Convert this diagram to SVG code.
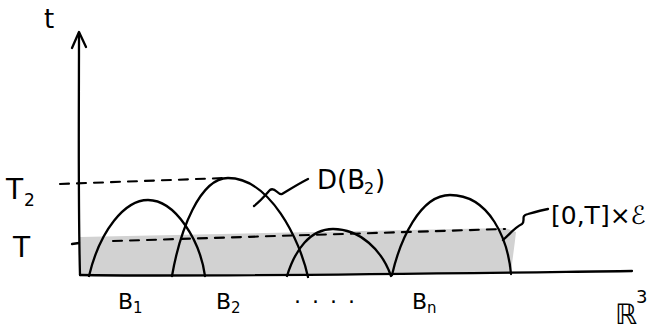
<svg xmlns="http://www.w3.org/2000/svg" width="662" height="330" viewBox="0 0 662 330">
<style>
.ln{fill:none;stroke:#000;stroke-width:2.3;stroke-linecap:round;stroke-linejoin:round}
.dash{fill:none;stroke:#000;stroke-width:2.1;stroke-dasharray:9 8;stroke-linecap:round}
.lbl{font-family:"DejaVu Sans","Liberation Sans",sans-serif;fill:#000}
</style>
<rect width="662" height="330" fill="#fff"/>
<g id="region">
<path d="M80 237 L505 228 L516 232 C514 250 512 262 511 274 L80 275 Z" fill="#d2d2d2"/>
</g>
<g id="axes">
<path class="ln" d="M80 275 C78 200 79 110 79 33"/>
<path class="ln" d="M72 48 L79 32 L86 47"/>
<path class="ln" d="M80 275 C200 277 400 274 632 271"/>
<path class="ln" d="M72 244 L79 243"/>
</g>
<g id="dashes">
<path class="dash" d="M60 184 L225 178"/>
<path class="dash" d="M113 241 L505 229"/>
</g>
<g id="arches">
<path class="ln" d="M89 276 C100 230 125 200 148 200 C175 200 200 240 205 276"/>
<path class="ln" d="M172 276 C180 230 200 178 228 178 C270 178 300 240 308 277"/>
<path class="ln" d="M287 276 C295 250 310 229 333 229 C360 229 382 250 391 276"/>
<path class="ln" d="M392 275 C400 240 420 195 450 195 C490 195 508 240 511 274"/>
</g>
<g id="leaders">
<path class="ln" d="M254 206 C262 200 268 192 270 190 C275 186 278 196 282 194 C292 188 300 183 308 179"/>
<path class="ln" d="M503 240 C510 234 514 228 522 224 C526 220 520 216 528 214 C535 212 542 210 548 209"/>
</g>
<g id="labels">
<text class="lbl" x="44" y="28" font-size="26">t</text>
<text class="lbl" x="6" y="199" font-size="28">T</text>
<text class="lbl" x="24" y="206" font-size="17">2</text>
<text class="lbl" x="13" y="257" font-size="28">T</text>
<text class="lbl" x="317" y="189" font-size="26">D(B</text>
<text class="lbl" x="364" y="194" font-size="16">2</text>
<text class="lbl" x="375" y="189" font-size="26">)</text>
<text class="lbl" x="551" y="224" font-size="25">[0,T]×ℰ</text>
<text class="lbl" x="118" y="309" font-size="22">B</text>
<text class="lbl" x="133" y="313" font-size="15">1</text>
<text class="lbl" x="216" y="309" font-size="22">B</text>
<text class="lbl" x="231" y="313" font-size="15">2</text>
<text class="lbl" x="294" y="303" font-size="22" letter-spacing="2">. . . .</text>
<text class="lbl" x="412" y="309" font-size="22">B</text>
<text class="lbl" x="427" y="313" font-size="15">n</text>
<text class="lbl" x="615" y="324" font-size="28">ℝ</text>
<text class="lbl" x="636" y="303" font-size="18">3</text>
</g>
</svg>
